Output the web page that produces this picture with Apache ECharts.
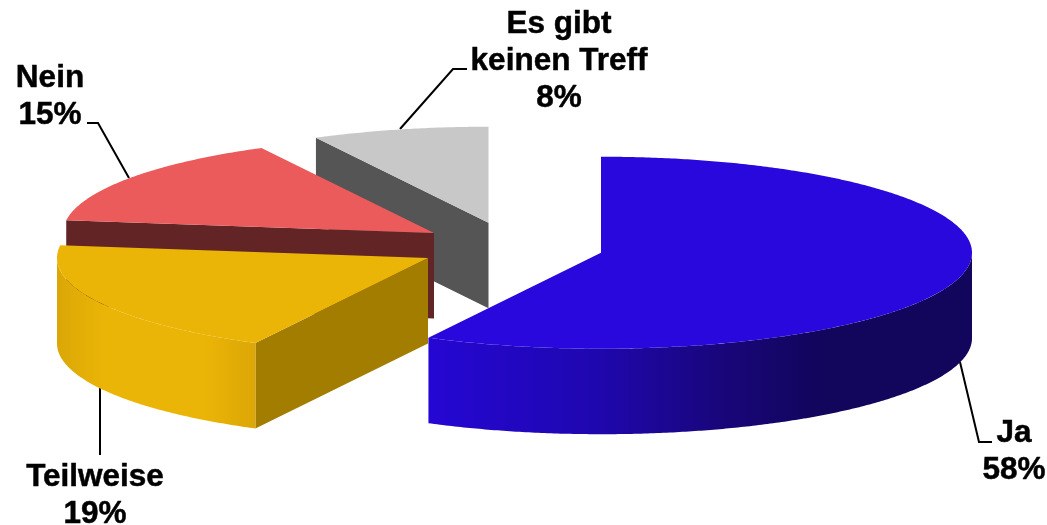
<!DOCTYPE html>
<html>
<head>
<meta charset="utf-8">
<style>html,body{margin:0;padding:0;background:#fff}#c{width:1047px;height:525px}</style>
<script src="https://cdn.jsdelivr.net/npm/echarts@6/dist/echarts.min.js"></script>
</head>
<body>
<div id="c"></div>
<script>
// Data, clockwise from 12 o'clock
const categories = ['Ja', 'Teilweise', 'Nein', 'Es gibt\nkeinen Treff'];
const values = [57.7, 19.4, 15.2, 7.7];
const percentLabels = ['58%', '19%', '15%', '8%'];

// Styling and layout (not data)
const topColors = ['#2808DC', '#EBB507', '#EB5B5B', '#C8C8C8'];
const cutColors = ['#14066E', '#A37D00', '#632426', '#555555'];
const wallStops = [
  [[0, '#2507D3'], [0.3, '#1F07B0'], [0.55, '#180678'], [0.72, '#11055C'], [1, '#11055C']],
  [[0, '#DAA706'], [0.24, '#EBB507'], [0.74, '#EBB507'], [1, '#DCA606']],
  null, null
];
const centers = [[601, 252.7], [428, 258], [434, 233], [488.5, 222.7]];
const RX = 371, RY = 96, DEPTH = 85.5;
const labelPos = [[1014, 452], [95, 496], [50, 97], [559, 61.5]];
const leaders = [
  [[960, 362], [979, 442], [992, 442]],
  [[100, 385], [100, 455]],
  [[129, 178], [98, 123], [87, 123]],
  [[400, 129], [453, 69], [467, 69]]
];

const total = values.reduce((a, b) => a + b, 0);
function arcPoint(c, deg, dy) {
  const t = deg * Math.PI / 180;
  return [c[0] + RX * Math.sin(t), c[1] - RY * Math.cos(t) + (dy || 0)];
}
function arc(c, a0, a1, dy) {
  const pts = [];
  const n = Math.max(2, Math.ceil(Math.abs(a1 - a0) * 2));
  for (let i = 0; i <= n; i++) pts.push(arcPoint(c, a0 + (a1 - a0) * i / n, dy));
  return pts;
}

function renderItem(params, api) {
  const i = params.dataIndex;
  const c = centers[i];
  let before = 0;
  for (let k = 0; k < i; k++) before += values[k];
  const a0 = before / total * 360;
  const a1 = a0 + api.value(0) / total * 360;
  const z = 10 + (values.length - i) * 3;
  const children = [];

  // cut face at the leading edge, visible when it faces the viewer
  if (Math.sin(a0 * Math.PI / 180) < -1e-6) {
    const p = arcPoint(c, a0);
    children.push({
      type: 'polygon', z2: z,
      shape: { points: [p, c, [c[0], c[1] + DEPTH], [p[0], p[1] + DEPTH]] },
      style: { fill: cutColors[i] }
    });
  }

  // outer wall (front half of the ellipse only)
  const w0 = Math.max(a0, 90), w1 = Math.min(a1, 270);
  if (w1 > w0 && wallStops[i]) {
    const upper = arc(c, w0, w1, 0);
    const lower = arc(c, w0, w1, DEPTH).reverse();
    children.push({
      type: 'polygon', z2: z + 1,
      shape: { points: upper.concat(lower) },
      style: {
        fill: {
          type: 'linear', x: 0, y: 0, x2: 1, y2: 0,
          colorStops: wallStops[i].map(s => ({ offset: s[0], color: s[1] }))
        }
      }
    });
  }

  // top face
  children.push({
    type: 'polygon', z2: z + 2,
    shape: { points: [c].concat(arc(c, a0, a1, 0)) },
    style: { fill: topColors[i] }
  });

  // leader
  children.push({
    type: 'polyline', z2: 1,
    shape: { points: leaders[i] },
    style: { fill: null, stroke: '#000', lineWidth: 2 }
  });

  // label
  children.push({
    type: 'text', z2: 100,
    style: {
      x: labelPos[i][0], y: labelPos[i][1],
      text: categories[i] + '\n' + percentLabels[i],
      align: 'center', verticalAlign: 'middle',
      font: 'bold 31.5px "Liberation Sans", Arial, sans-serif',
      lineHeight: 37, fill: '#000', stroke: '#000', lineWidth: 0.5
    }
  });

  return { type: 'group', children: children };
}

const chart = echarts.init(document.getElementById('c'), null, { renderer: 'canvas' });
chart.setOption({
  backgroundColor: '#fff',
  animation: false,
  tooltip: { show: false },
  series: [{
    type: 'custom',
    coordinateSystem: 'none',
    silent: true,
    renderItem: renderItem,
    data: values.map(v => [v])
  }]
});
</script>
</body>
</html>
